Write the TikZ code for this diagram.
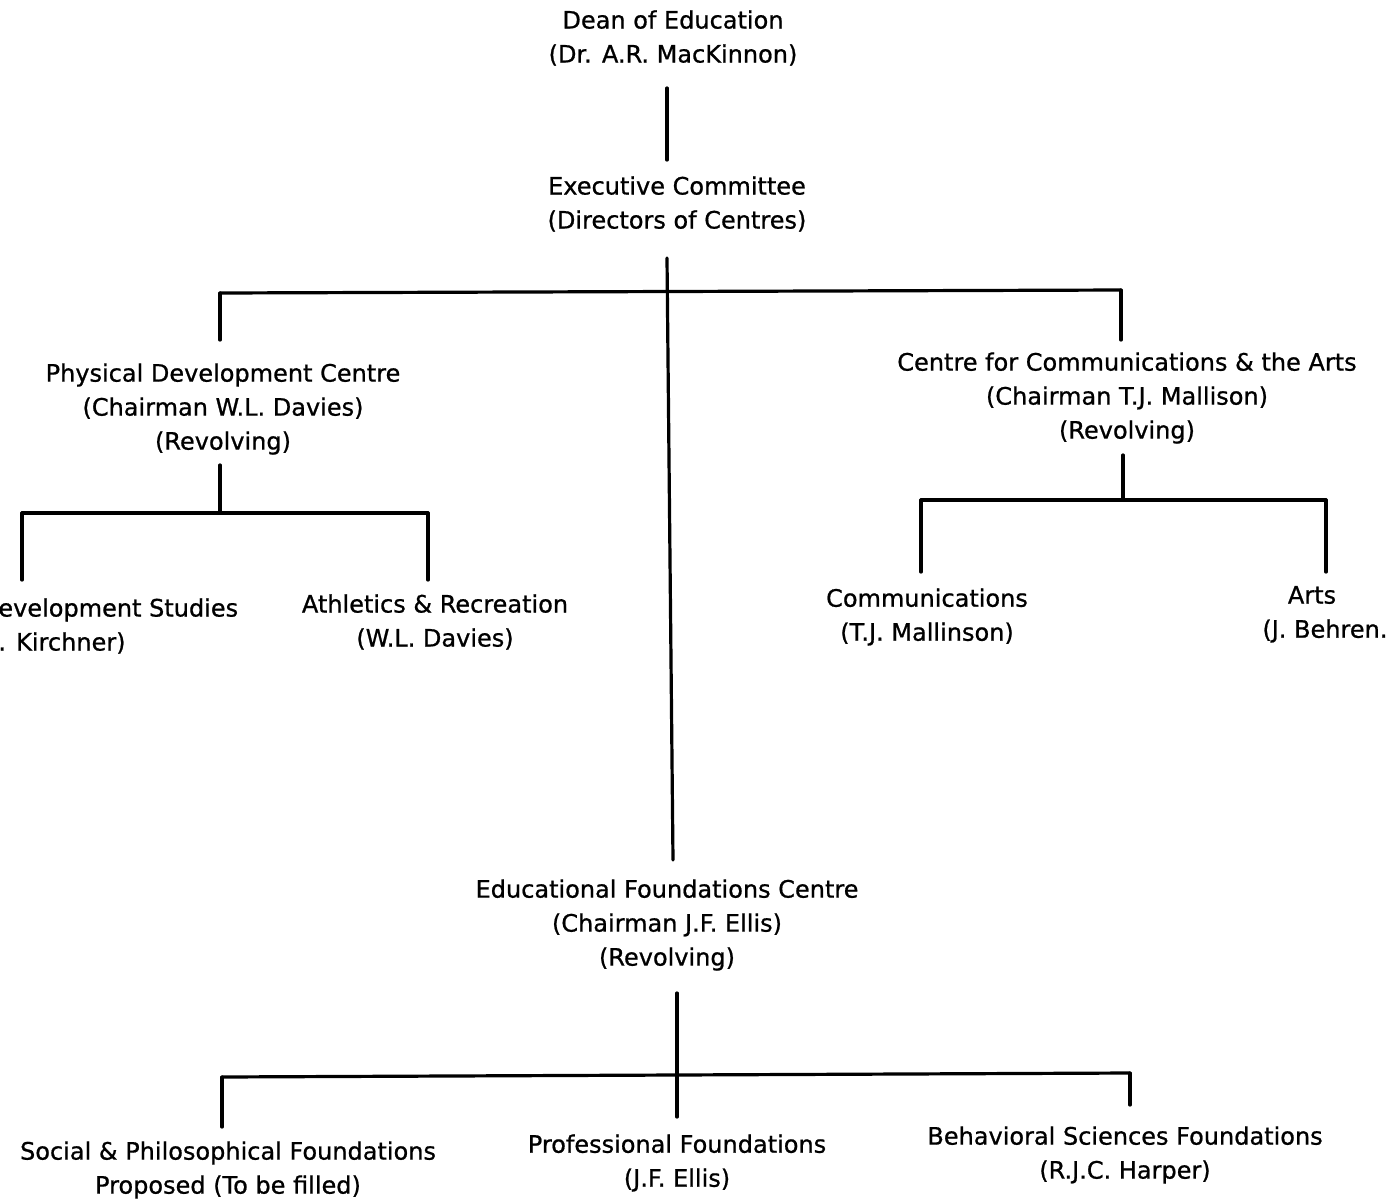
\documentclass[tikz,border=0pt]{standalone}
\usepackage{fontspec}
\setmainfont{DejaVu Sans}[BoldFont=DejaVu Sans, BoldFeatures={FakeBold=0.8}]
\begin{document}
\begin{tikzpicture}[x=0.5pt,y=-0.5pt,
  lbl/.style={font=\fontsize{12}{17}\selectfont\bfseries, align=center, inner sep=0pt, text=black},
  conn/.style={line width=1.6pt, black, line cap=round}]
\useasboundingbox[fill=white] (0,0) rectangle (1394,1201);

% nodes
\node[lbl] (dean) at (673,38) {Dean of Education\\(Dr. A.R. MacKinnon)};
\node[lbl] (exec) at (677,204) {Executive Committee\\(Directors of Centres)};
\node[lbl] (phys) at (223,409) {Physical Development Centre\\(Chairman W.L. Davies)\\(Revolving)};
\node[lbl] (comm) at (1127,398) {Centre for Communications \& the Arts\\(Chairman T.J. Mallison)\\(Revolving)};
\node[lbl, anchor=west, align=left] (devst) at (-2,626) {evelopment Studies\\. Kirchner)};
\node[lbl] (athl) at (435,622) {Athletics \& Recreation\\(W.L. Davies)};
\node[lbl] (comms) at (927,617) {Communications\\(T.J. Mallinson)};
\node[lbl] (arts) at (1312,595) {Arts};
\node[lbl, anchor=west] (artsname) at (1262,631) {(J. Behren.};
\node[lbl] (edu) at (667,925) {Educational Foundations Centre\\(Chairman J.F. Ellis)\\(Revolving)};
\node[lbl] (social) at (228,1170) {Social \& Philosophical Foundations\\Proposed (To be filled)};
\node[lbl] (prof) at (677,1163) {Professional Foundations\\(J.F. Ellis)};
\node[lbl] (behav) at (1125,1155) {Behavioral Sciences Foundations\\(R.J.C. Harper)};

% junction coordinates
\coordinate (deanB) at (667,88);
\coordinate (execT) at (667,160);
\coordinate (execB) at (667,258);
\coordinate (eduT) at (673,860);
\coordinate (barL) at (220,293);
\coordinate (barR) at (1121,290);
\coordinate (physT) at (220,340);
\coordinate (commT) at (1121,340);
\coordinate (physB) at (220,465);
\coordinate (pbarM) at (220,513);
\coordinate (pbarL) at (22,513);
\coordinate (pbarR) at (428,513);
\coordinate (devT) at (22,580);
\coordinate (athT) at (428,580);
\coordinate (commB) at (1123,455);
\coordinate (cbarM) at (1123,500);
\coordinate (cbarL) at (921,500);
\coordinate (cbarR) at (1326,500);
\coordinate (commsT) at (921,572);
\coordinate (artsT) at (1326,572);
\coordinate (eduB) at (677,993);
\coordinate (profT) at (677,1117);
\coordinate (ebarL) at (222,1077);
\coordinate (ebarR) at (1130,1073);
\coordinate (socT) at (222,1127);
\coordinate (behT) at (1130,1105);

% connectors
\draw[conn] (deanB) -- (execT);
\draw[conn] (execB) -- (eduT);
\draw[conn] (barL) -- (barR);
\draw[conn] (barL) -- (physT);
\draw[conn] (barR) -- (commT);
\draw[conn] (physB) -- (pbarM);
\draw[conn] (pbarL) -- (pbarR);
\draw[conn] (pbarL) -- (devT);
\draw[conn] (pbarR) -- (athT);
\draw[conn] (commB) -- (cbarM);
\draw[conn] (cbarL) -- (cbarR);
\draw[conn] (cbarL) -- (commsT);
\draw[conn] (cbarR) -- (artsT);
\draw[conn] (eduB) -- (profT);
\draw[conn] (ebarL) -- (ebarR);
\draw[conn] (ebarL) -- (socT);
\draw[conn] (ebarR) -- (behT);
\end{tikzpicture}
\end{document}
